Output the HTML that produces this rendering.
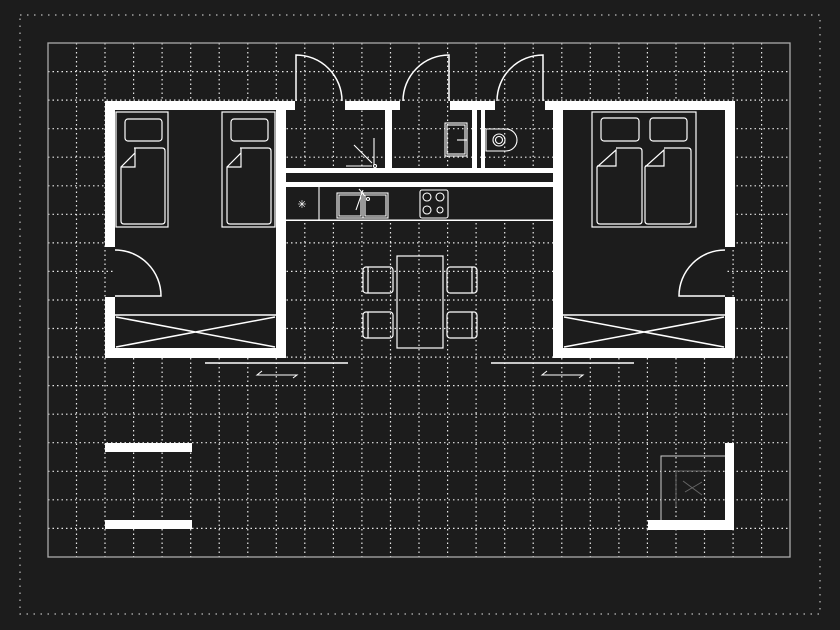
<!DOCTYPE html>
<html><head><style>html,body{margin:0;padding:0;background:#1c1c1c;}svg{display:block}</style></head>
<body>
<svg width="840" height="630" viewBox="0 0 840 630" xmlns="http://www.w3.org/2000/svg">
<rect width="840" height="630" fill="#1c1c1c"/>
<!-- outer dotted frame -->
<rect x="20" y="15" width="800" height="599" fill="none" stroke="#bbb" stroke-width="1.2" stroke-dasharray="1.5 5.5"/>
<!-- grid -->
<g stroke="#e8e8e8" stroke-width="1.2" stroke-dasharray="1.5 3">
<path d="M76.5 43V557M105 43V557M133.6 43V557M162.1 43V557M190.7 43V557M219.2 43V557M247.8 43V557M276.3 43V557M304.8 43V557M333.4 43V557M361.9 43V557M390.5 43V557M419 43V557M447.6 43V557M476.1 43V557M504.7 43V557M533.2 43V557M561.8 43V557M590.3 43V557M618.9 43V557M647.4 43V557M676 43V557M704.5 43V557M733.1 43V557M761.6 43V557"/>
<path d="M48 71.6H790M48 100.1H790M48 128.7H790M48 157.2H790M48 185.8H790M48 214.3H790M48 242.9H790M48 271.4H790M48 300H790M48 328.5H790M48 357.1H790M48 385.6H790M48 414.2H790M48 442.7H790M48 471.3H790M48 499.8H790M48 528.4H790"/>
</g>
<rect x="48" y="43" width="742" height="514" fill="none" stroke="#aaa" stroke-width="1.3"/>

<!-- room interiors (cover grid) -->
<g fill="#1c1c1c">
<rect x="115" y="110" width="161" height="238"/>
<rect x="563" y="110" width="162" height="238"/>
<rect x="286" y="173" width="267" height="48"/>
</g>

<!-- walls -->
<g fill="#fff">
<!-- left bedroom -->
<rect x="105" y="101" width="190" height="9"/>
<rect x="105" y="101" width="10" height="146"/>
<rect x="105" y="297" width="10" height="61"/>
<rect x="276" y="101" width="10" height="257"/>
<rect x="105" y="348" width="181" height="10"/>
<!-- top middle -->
<rect x="345" y="101" width="55" height="9"/>
<rect x="450" y="101" width="45" height="9"/>
<rect x="545" y="101" width="190" height="9"/>
<rect x="385" y="110" width="7" height="59"/>
<rect x="472" y="110" width="5" height="59"/>
<rect x="481" y="110" width="4" height="59"/>
<rect x="286" y="168" width="267" height="5"/>
<rect x="286" y="182" width="267" height="5"/>
<rect x="286" y="219.5" width="267" height="1.5"/>
<!-- right bedroom -->
<rect x="553" y="101" width="10" height="257"/>
<rect x="725" y="101" width="10" height="146"/>
<rect x="725" y="297" width="10" height="61"/>
<rect x="553" y="348" width="182" height="10"/>
<!-- bottom bars -->
<rect x="105" y="443" width="87" height="9"/>
<rect x="105" y="520" width="87" height="9"/>
<rect x="725" y="443" width="9" height="87"/>
<rect x="648" y="520" width="86" height="10"/>
</g>

<g fill="none" stroke="#fff" stroke-width="1.5">
<!-- top doors -->
<path d="M296 101V55A46 46 0 0 1 342 101"/>
<path d="M449 101V55A46 46 0 0 0 403 101"/>
<path d="M543 101V55A46 46 0 0 0 497 101"/>
<!-- side doors -->
<path d="M115 296H161A46 46 0 0 0 115 250"/>
<path d="M725 296H679A46 46 0 0 1 725 250"/>
<!-- wardrobes -->
<path d="M115 315H276M116 317L275 347M116 347L275 317"/>
<path d="M563 315H725M564 317L724 347M564 347L724 317"/>
<!-- sliding -->
<path d="M205 363H348M491 363H634"/>
<path d="M262 371L257 375H297L293 378M547 371L542 375H583L579 378" stroke-width="1"/>
</g>

<!-- beds -->
<g fill="none" stroke="#fff" stroke-width="1.2">
<rect x="116" y="112" width="52" height="115"/>
<rect x="125" y="119" width="37" height="22" rx="3"/>
<path d="M134 148H162Q165 148 165 151V221Q165 224 162 224H124Q121 224 121 221V167L135 153V167H121M135 153V148"/>
<rect x="222" y="112" width="53" height="115"/>
<rect x="231" y="119" width="37" height="22" rx="3"/>
<path d="M240 148H268Q271 148 271 151V221Q271 224 268 224H230Q227 224 227 221V167L241 153V167H227M241 153V148"/>
<rect x="592" y="112" width="104" height="115"/>
<rect x="601" y="118" width="38" height="23" rx="3"/>
<rect x="650" y="118" width="37" height="23" rx="3"/>
<path d="M616 148H639Q642 148 642 151V221Q642 224 639 224H600Q597 224 597 221V167L616 150V166H597"/>
<path d="M664 148H688Q691 148 691 151V221Q691 224 688 224H648Q645 224 645 221V167L664 150V166H645"/>
</g>

<!-- bathrooms -->
<g fill="none" stroke="#fff" stroke-width="1.1">
<path d="M374 138V165M354 145L372 163M346 166H372"/>
<circle cx="375" cy="166" r="1.5"/>
<rect x="445" y="123" width="22" height="33"/>
<rect x="447" y="125" width="18" height="29"/>
<path d="M457 140H467"/>
<path d="M486 129H506A11 11 0 0 1 506 151H486Z"/>
<circle cx="499" cy="140" r="6"/>
<circle cx="499" cy="140" r="3.5"/>
<!-- kitchen -->
<path d="M319 187V220"/>
<rect x="337" y="193" width="51" height="25"/>
<path d="M339 195H361V216H339ZM365 195H386V216H365ZM363 193V218"/>
<path d="M356 210L363 190M359 189L365 196"/>
<circle cx="368" cy="199" r="1.5"/>
<rect x="420" y="190" width="28" height="28" rx="2"/>
<circle cx="427" cy="197" r="4"/><circle cx="440" cy="197" r="4"/>
<circle cx="427" cy="210" r="4"/><circle cx="440" cy="210" r="3"/>
</g>
<text x="302" y="208" font-family="Liberation Sans, sans-serif" font-size="11" fill="#fff" text-anchor="middle">✳</text>

<!-- table & chairs -->
<g fill="none" stroke="#fff" stroke-width="1.2">
<rect x="397" y="256" width="46" height="92"/>
<rect x="363" y="267" width="30" height="26" rx="3"/><path d="M368 267V293"/>
<rect x="363" y="312" width="30" height="26" rx="3"/><path d="M368 312V338"/>
<rect x="447" y="267" width="30" height="26" rx="3"/><path d="M472 267V293"/>
<rect x="447" y="312" width="30" height="26" rx="3"/><path d="M472 312V338"/>
</g>

<!-- bottom right box -->
<g fill="none">
<path d="M661 520V456H725" stroke="#ccc" stroke-width="1"/>
<path d="M676 471H711M676 471V506M683 481L702 495M685 492L702 482" stroke="#666" stroke-width="1"/>
</g>
</svg>
</body></html>
